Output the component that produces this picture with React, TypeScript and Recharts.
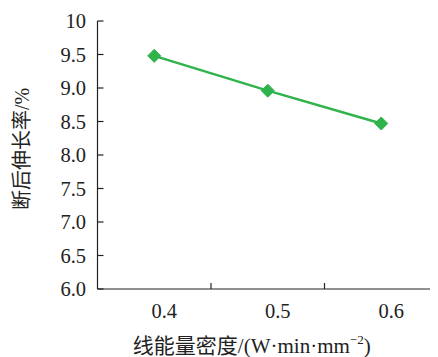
import React from 'react';
import { LineChart, Line, XAxis, YAxis } from 'recharts';

const energyDensity = [0.4, 0.5, 0.6];
const elongation = [9.48, 8.96, 8.47];
const xLabelTicks = [0.4, 0.5, 0.6];
const xMarkTicks = [0.45, 0.55];
const yTicks = [6, 6.5, 7, 7.5, 8, 8.5, 9, 9.5, 10];

const data = energyDensity.map((x, i) => ({ x, y: elongation[i] }));
const allXTicks = [...xLabelTicks, ...xMarkTicks].sort((a, b) => a - b);

const FONT = 'Liberation Serif, Times New Roman, serif, Noto Sans CJK SC';
const AXIS = '#222';
const GREEN = '#2fb34a';

const XTick = (props: any) => {
  const { x, y, payload } = props;
  const v = payload.value;
  if (xMarkTicks.some((m) => Math.abs(m - v) < 1e-9)) {
    return <line x1={x} x2={x} y1={y} y2={y - 6} stroke={AXIS} strokeWidth={1.2} />;
  }
  return (
    <text x={x} dx={10} y={y + 28.5} textAnchor="middle" fontSize={20.5} style={{ fontFamily: FONT }} fill="#222">
      {v.toFixed(1)}
    </text>
  );
};

const Diamond = (props: any) => {
  const { cx, cy, index } = props;
  if (cx == null || cy == null) return <g key={index} />;
  const s = 6.5;
  return (
    <polygon
      key={index}
      points={`${cx},${cy - s} ${cx + s},${cy} ${cx},${cy + s} ${cx - s},${cy}`}
      fill={GREEN}
      stroke={GREEN}
    />
  );
};

const XTitle = (props: any) => {
  const { viewBox } = props;
  const cx = viewBox.x + viewBox.width / 2 - 16;
  return (
    <text x={cx} y={345} textAnchor="middle" fontSize={21} style={{ fontFamily: FONT }} fill="#222">
      <tspan>线能量密度/(W·min·mm</tspan>
      <tspan fontSize={13} dy={-9}>−2</tspan>
      <tspan dy={9}>)</tspan>
    </text>
  );
};

const YTitle = (props: any) => {
  const { viewBox } = props;
  const cx = 21.3;
  const cy = viewBox.y + viewBox.height / 2 - 6;
  return (
    <text
      x={cx}
      y={cy}
      transform={`rotate(-90, ${cx}, ${cy})`}
      textAnchor="middle"
      fontSize={20}
      style={{ fontFamily: FONT }}
      fill="#222"
    >
      断后伸长率/%
    </text>
  );
};

export default function App() {
  return (
    <LineChart width={430} height={349} data={data} margin={{ top: 13, right: 0, bottom: 0, left: 0 }}>
      <XAxis
        dataKey="x"
        type="number"
        domain={[0.35, 0.65]}
        ticks={allXTicks}
        interval={0}
        allowDataOverflow
        tickLine={false}
        tickSize={0}
        tickMargin={0}
        tick={<XTick />}
        height={68}
        axisLine={{ stroke: AXIS, strokeWidth: 1.2 }}
        label={<XTitle />}
      />
      <YAxis
        type="number"
        domain={[6, 10]}
        ticks={yTicks}
        interval={0}
        width={89.5}
        tickSize={-6}
        tickMargin={17.5}
        tickFormatter={(v: number) => (v === 10 ? '10' : v.toFixed(1))}
        tick={{ fontSize: 20.5, style: { fontFamily: FONT }, fill: '#222' }}
        tickLine={{ stroke: AXIS, strokeWidth: 1.2 }}
        axisLine={{ stroke: AXIS, strokeWidth: 1.2 }}
        label={<YTitle />}
      />
      <Line
        type="linear"
        dataKey="y"
        stroke={GREEN}
        strokeWidth={2.5}
        dot={<Diamond />}
        activeDot={false}
        isAnimationActive={false}
      />
    </LineChart>
  );
}
